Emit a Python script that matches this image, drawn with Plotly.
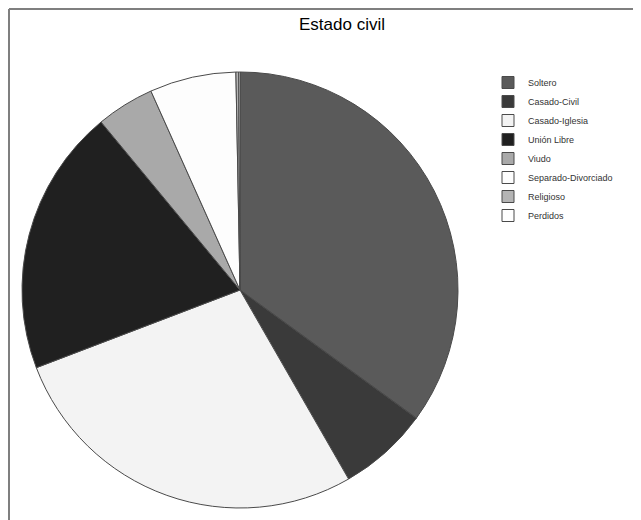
import plotly.graph_objects as go

categories = ["Soltero", "Casado-Civil", "Casado-Iglesia", "Unión Libre",
              "Viudo", "Separado-Divorciado", "Religioso", "Perdidos"]
values = [35.0, 6.7, 27.5, 19.8, 4.3, 6.4, 0.2, 0.1]
colors = ["#5a5a5a", "#3a3a3a", "#f3f3f3", "#202020",
          "#a9a9a9", "#fdfdfd", "#b4b4b4", "#ffffff"]
title_text = "Estado civil"

OFF = 8  # page body margin
W, H = 641 - OFF, 520 - OFF
cx, cy, r = 240 - OFF, 290 - OFF, 218


def px(x):
    return (x - OFF) / W


def py(y):
    return 1 - (y - OFF) / H


fig = go.Figure(go.Pie(
    labels=categories,
    values=values,
    sort=False,
    direction="clockwise",
    rotation=0,
    textinfo="none",
    hoverinfo="label+percent",
    marker=dict(colors=colors, line=dict(color="#4a4a4a", width=1)),
    domain=dict(x=[(cx - r) / W, (cx + r) / W],
                y=[1 - (cy + r) / H, 1 - (cy - r) / H]),
))

fig.update_layout(
    width=W, height=H,
    margin=dict(l=0, r=0, t=0, b=0),
    paper_bgcolor="white",
    plot_bgcolor="white",
    showlegend=True,
    legend=dict(
        x=px(488), y=py(68), xanchor="left", yanchor="top",
        font=dict(family="Liberation Sans, Arial, sans-serif", size=9, color="#333333"),
        bgcolor="rgba(0,0,0,0)", borderwidth=0,
        tracegroupgap=0,
    ),
    annotations=[dict(
        text=title_text, x=px(342), y=py(24), xref="paper", yref="paper",
        xanchor="center", yanchor="middle", showarrow=False,
        font=dict(family="Liberation Sans, Arial, sans-serif", size=17, color="#000000"),
    )],
    shapes=[
        dict(type="line", xref="paper", yref="paper",
             x0=px(9), x1=1, y0=py(9), y1=py(9),
             line=dict(color="#7f7f7f", width=2)),
        dict(type="line", xref="paper", yref="paper",
             x0=px(9), x1=px(9), y0=0, y1=py(9),
             line=dict(color="#7f7f7f", width=2)),
    ],
)

fig.write_html("out.html")
